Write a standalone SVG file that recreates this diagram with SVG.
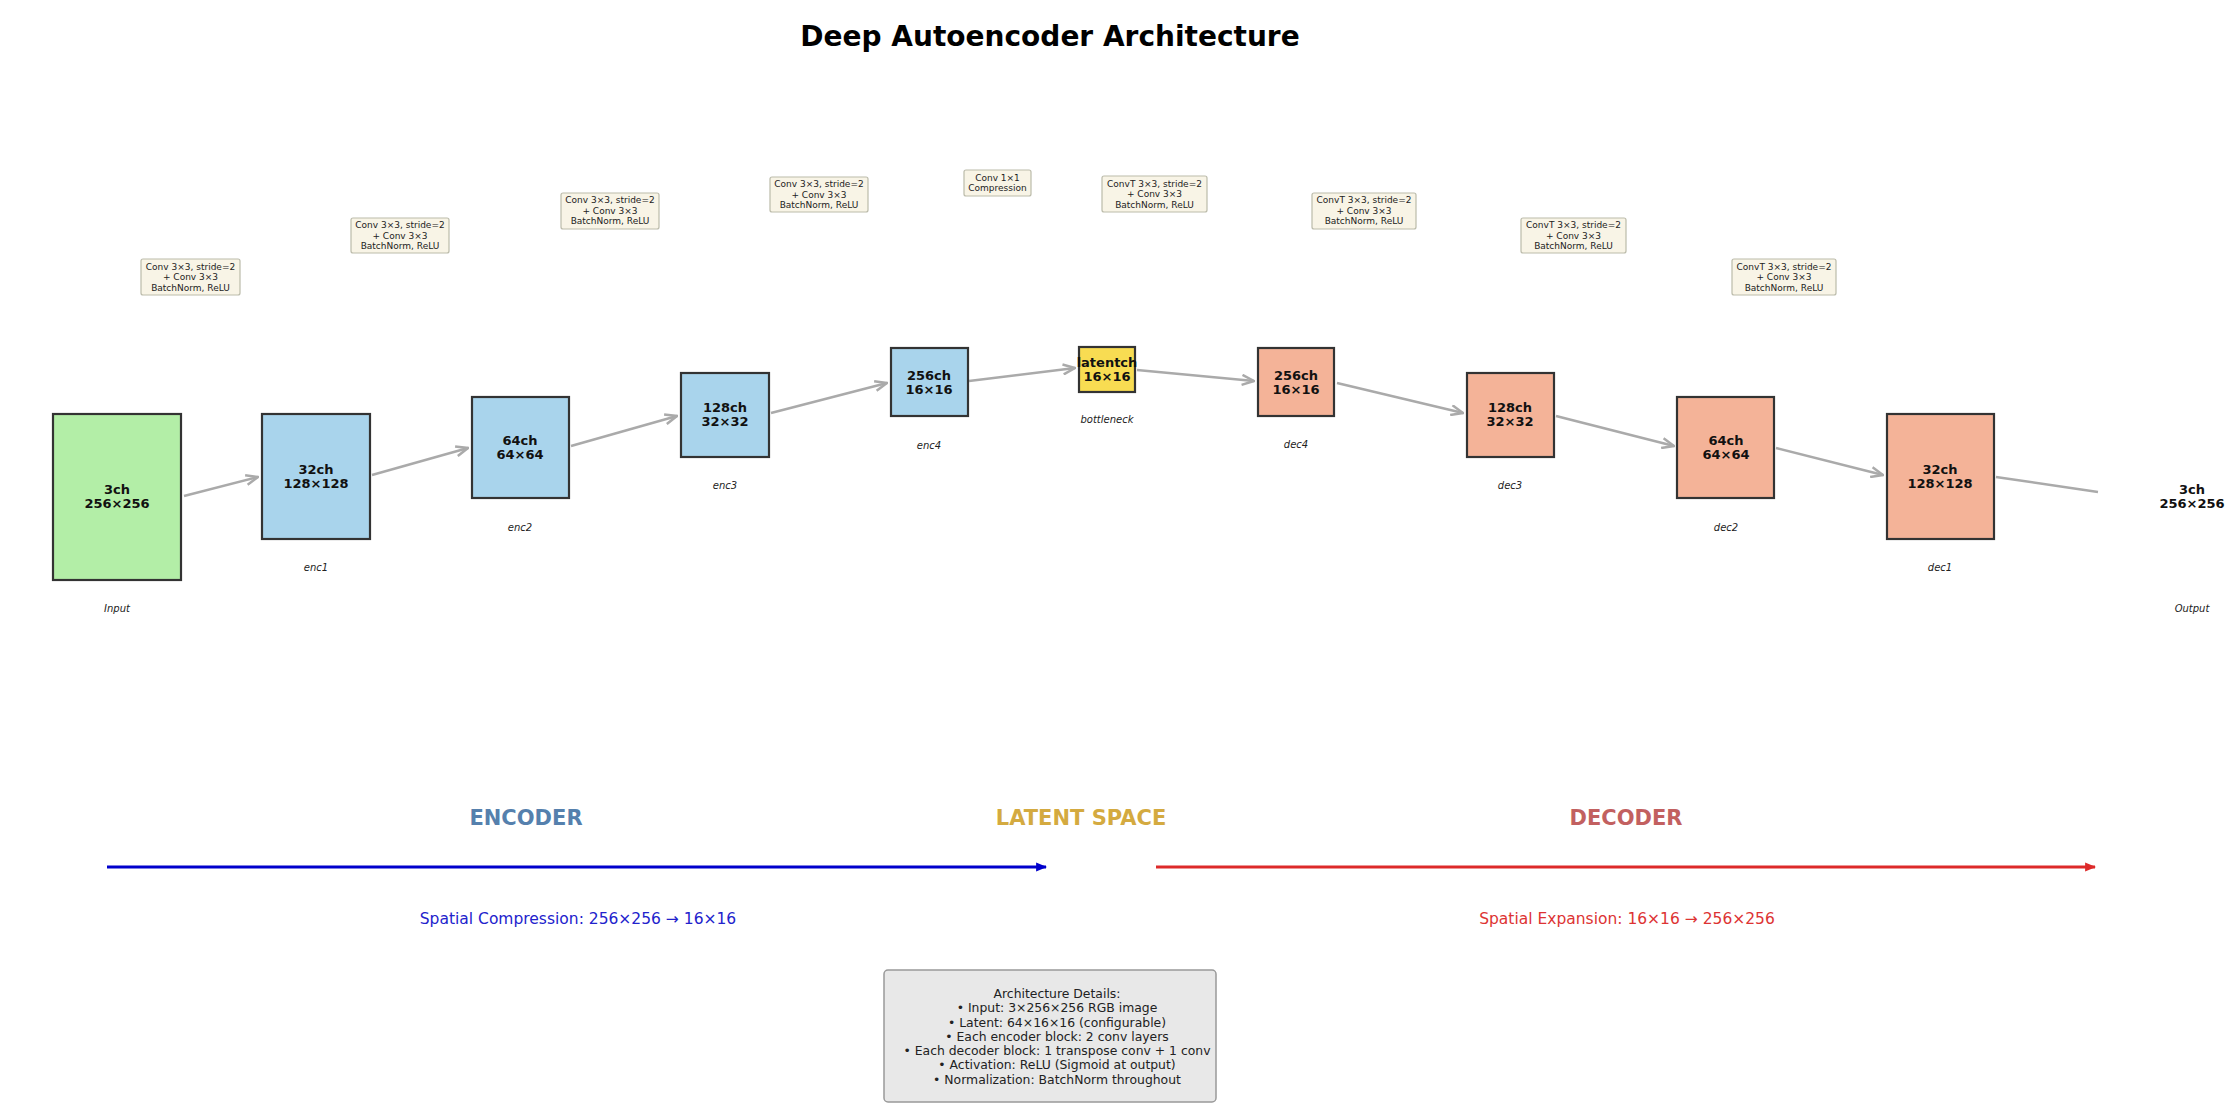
<svg xmlns="http://www.w3.org/2000/svg" width="2232" height="1108" viewBox="0 0 2232 1108">
<defs>
<marker id="open" viewBox="0 0 14 12" refX="13" refY="6" markerWidth="14" markerHeight="12" markerUnits="userSpaceOnUse" orient="auto">
<path d="M1,1 L13,6 L1,11" fill="none" stroke="#aaaaaa" stroke-width="2.5"/>
</marker>
<marker id="blueHead" viewBox="0 0 10 10" refX="9" refY="5" markerWidth="11" markerHeight="11" markerUnits="userSpaceOnUse" orient="auto">
<path d="M0,1 L10,5 L0,9 Z" fill="#0000cc"/>
</marker>
<marker id="redHead" viewBox="0 0 10 10" refX="9" refY="5" markerWidth="11" markerHeight="11" markerUnits="userSpaceOnUse" orient="auto">
<path d="M0,1 L10,5 L0,9 Z" fill="#dd2a2a"/>
</marker>
</defs>
<style>
text { font-family: "DejaVu Sans", "Liberation Sans", sans-serif; }
.title { font-size: 28px; font-weight: bold; fill: #000; }
.nt { font-size: 13px; font-weight: bold; fill: #111; }
.nl { font-size: 10px; font-style: italic; fill: #222; }
.lb { fill: #f8f4e6; stroke: #bbbbaa; stroke-width: 1.2; }
.lt { font-size: 9px; fill: #222; }
.box { stroke: #333; stroke-width: 2.2; }
.enc { fill: #a9d4ec; }
.dec { fill: #f4b398; }
.conn { stroke: #aaaaaa; stroke-width: 2.5; fill: none; }
.sec { font-size: 21px; font-weight: bold; }
.sub { font-size: 15.5px; }
.det { font-size: 12.4px; fill: #222; }
</style>
<rect width="2232" height="1108" fill="#ffffff"/>
<text class="title" x="1050" y="36" text-anchor="middle" dominant-baseline="central">Deep Autoencoder Architecture</text>

<g id="connectors">
<line class="conn" x1="184" y1="496" x2="258" y2="477" marker-end="url(#open)"/>
<line class="conn" x1="372" y1="475" x2="468" y2="448" marker-end="url(#open)"/>
<line class="conn" x1="571" y1="446" x2="677" y2="416" marker-end="url(#open)"/>
<line class="conn" x1="771" y1="413" x2="887" y2="383" marker-end="url(#open)"/>
<line class="conn" x1="969" y1="381" x2="1075" y2="368" marker-end="url(#open)"/>
<line class="conn" x1="1137" y1="370" x2="1254" y2="381" marker-end="url(#open)"/>
<line class="conn" x1="1337" y1="383" x2="1463" y2="413" marker-end="url(#open)"/>
<line class="conn" x1="1556" y1="416" x2="1674" y2="446" marker-end="url(#open)"/>
<line class="conn" x1="1776" y1="448" x2="1883" y2="475" marker-end="url(#open)"/>
<line class="conn" x1="1996" y1="477" x2="2098" y2="492"/>
</g>

<g id="input">
<rect class="box" x="53" y="414" width="128" height="166" fill="#b3eea7"/>
<text class="nt" x="117" y="489" text-anchor="middle" dominant-baseline="central">3ch</text>
<text class="nt" x="117" y="503" text-anchor="middle" dominant-baseline="central">256×256</text>
<text class="nl" x="117" y="608" text-anchor="middle" dominant-baseline="central">Input</text>
</g>
<g id="enc1">
<rect class="box enc" x="262" y="414" width="108" height="125"/>
<text class="nt" x="316" y="469" text-anchor="middle" dominant-baseline="central">32ch</text>
<text class="nt" x="316" y="483" text-anchor="middle" dominant-baseline="central">128×128</text>
<text class="nl" x="316" y="567" text-anchor="middle" dominant-baseline="central">enc1</text>
</g>
<g id="enc2">
<rect class="box enc" x="472" y="397" width="97" height="101"/>
<text class="nt" x="520" y="440" text-anchor="middle" dominant-baseline="central">64ch</text>
<text class="nt" x="520" y="454" text-anchor="middle" dominant-baseline="central">64×64</text>
<text class="nl" x="520" y="527" text-anchor="middle" dominant-baseline="central">enc2</text>
</g>
<g id="enc3">
<rect class="box enc" x="681" y="373" width="88" height="84"/>
<text class="nt" x="725" y="407" text-anchor="middle" dominant-baseline="central">128ch</text>
<text class="nt" x="725" y="421" text-anchor="middle" dominant-baseline="central">32×32</text>
<text class="nl" x="725" y="485" text-anchor="middle" dominant-baseline="central">enc3</text>
</g>
<g id="enc4">
<rect class="box enc" x="891" y="348" width="77" height="68"/>
<text class="nt" x="929" y="375" text-anchor="middle" dominant-baseline="central">256ch</text>
<text class="nt" x="929" y="389" text-anchor="middle" dominant-baseline="central">16×16</text>
<text class="nl" x="929" y="445" text-anchor="middle" dominant-baseline="central">enc4</text>
</g>
<g id="bottleneck">
<rect class="box" x="1079" y="347" width="56" height="45" fill="#f8dc52"/>
<text class="nt" x="1107" y="362" text-anchor="middle" dominant-baseline="central">latentch</text>
<text class="nt" x="1107" y="376" text-anchor="middle" dominant-baseline="central">16×16</text>
<text class="nl" x="1107" y="419" text-anchor="middle" dominant-baseline="central">bottleneck</text>
</g>
<g id="dec4">
<rect class="box dec" x="1258" y="348" width="76" height="68"/>
<text class="nt" x="1296" y="375" text-anchor="middle" dominant-baseline="central">256ch</text>
<text class="nt" x="1296" y="389" text-anchor="middle" dominant-baseline="central">16×16</text>
<text class="nl" x="1296" y="444" text-anchor="middle" dominant-baseline="central">dec4</text>
</g>
<g id="dec3">
<rect class="box dec" x="1467" y="373" width="87" height="84"/>
<text class="nt" x="1510" y="407" text-anchor="middle" dominant-baseline="central">128ch</text>
<text class="nt" x="1510" y="421" text-anchor="middle" dominant-baseline="central">32×32</text>
<text class="nl" x="1510" y="485" text-anchor="middle" dominant-baseline="central">dec3</text>
</g>
<g id="dec2">
<rect class="box dec" x="1677" y="397" width="97" height="101"/>
<text class="nt" x="1726" y="440" text-anchor="middle" dominant-baseline="central">64ch</text>
<text class="nt" x="1726" y="454" text-anchor="middle" dominant-baseline="central">64×64</text>
<text class="nl" x="1726" y="527" text-anchor="middle" dominant-baseline="central">dec2</text>
</g>
<g id="dec1">
<rect class="box dec" x="1887" y="414" width="107" height="125"/>
<text class="nt" x="1940" y="469" text-anchor="middle" dominant-baseline="central">32ch</text>
<text class="nt" x="1940" y="483" text-anchor="middle" dominant-baseline="central">128×128</text>
<text class="nl" x="1940" y="567" text-anchor="middle" dominant-baseline="central">dec1</text>
</g>
<g id="output">
<text class="nt" x="2192" y="489" text-anchor="middle" dominant-baseline="central">3ch</text>
<text class="nt" x="2192" y="503" text-anchor="middle" dominant-baseline="central">256×256</text>
<text class="nl" x="2192" y="608" text-anchor="middle" dominant-baseline="central">Output</text>
</g>

<g id="op-labels">
<g id="op-enc1">
<rect class="lb" x="141" y="259" width="99" height="36" rx="2"/>
<text class="lt" x="190.5" y="266.5" text-anchor="middle" dominant-baseline="central">Conv 3×3, stride=2</text>
<text class="lt" x="190.5" y="277" text-anchor="middle" dominant-baseline="central">+ Conv 3×3</text>
<text class="lt" x="190.5" y="287.5" text-anchor="middle" dominant-baseline="central">BatchNorm, ReLU</text>
</g>
<g id="op-enc2">
<rect class="lb" x="351" y="218" width="98" height="35" rx="2"/>
<text class="lt" x="400" y="225" text-anchor="middle" dominant-baseline="central">Conv 3×3, stride=2</text>
<text class="lt" x="400" y="235.5" text-anchor="middle" dominant-baseline="central">+ Conv 3×3</text>
<text class="lt" x="400" y="246" text-anchor="middle" dominant-baseline="central">BatchNorm, ReLU</text>
</g>
<g id="op-enc3">
<rect class="lb" x="561" y="193" width="98" height="36" rx="2"/>
<text class="lt" x="610" y="200" text-anchor="middle" dominant-baseline="central">Conv 3×3, stride=2</text>
<text class="lt" x="610" y="210.5" text-anchor="middle" dominant-baseline="central">+ Conv 3×3</text>
<text class="lt" x="610" y="221" text-anchor="middle" dominant-baseline="central">BatchNorm, ReLU</text>
</g>
<g id="op-enc4">
<rect class="lb" x="770" y="177" width="98" height="35" rx="2"/>
<text class="lt" x="819" y="184" text-anchor="middle" dominant-baseline="central">Conv 3×3, stride=2</text>
<text class="lt" x="819" y="194.5" text-anchor="middle" dominant-baseline="central">+ Conv 3×3</text>
<text class="lt" x="819" y="205" text-anchor="middle" dominant-baseline="central">BatchNorm, ReLU</text>
</g>
<g id="op-bottleneck">
<rect class="lb" x="964" y="170" width="67" height="26" rx="2"/>
<text class="lt" x="997.5" y="177.5" text-anchor="middle" dominant-baseline="central">Conv 1×1</text>
<text class="lt" x="997.5" y="188" text-anchor="middle" dominant-baseline="central">Compression</text>
</g>
<g id="op-dec4">
<rect class="lb" x="1102" y="176" width="105" height="36" rx="2"/>
<text class="lt" x="1154.5" y="183.5" text-anchor="middle" dominant-baseline="central">ConvT 3×3, stride=2</text>
<text class="lt" x="1154.5" y="194" text-anchor="middle" dominant-baseline="central">+ Conv 3×3</text>
<text class="lt" x="1154.5" y="204.5" text-anchor="middle" dominant-baseline="central">BatchNorm, ReLU</text>
</g>
<g id="op-dec3">
<rect class="lb" x="1312" y="193" width="104" height="36" rx="2"/>
<text class="lt" x="1364" y="200" text-anchor="middle" dominant-baseline="central">ConvT 3×3, stride=2</text>
<text class="lt" x="1364" y="210.5" text-anchor="middle" dominant-baseline="central">+ Conv 3×3</text>
<text class="lt" x="1364" y="221" text-anchor="middle" dominant-baseline="central">BatchNorm, ReLU</text>
</g>
<g id="op-dec2">
<rect class="lb" x="1521" y="218" width="105" height="35" rx="2"/>
<text class="lt" x="1573.5" y="225" text-anchor="middle" dominant-baseline="central">ConvT 3×3, stride=2</text>
<text class="lt" x="1573.5" y="235.5" text-anchor="middle" dominant-baseline="central">+ Conv 3×3</text>
<text class="lt" x="1573.5" y="246" text-anchor="middle" dominant-baseline="central">BatchNorm, ReLU</text>
</g>
<g id="op-dec1">
<rect class="lb" x="1732" y="259" width="104" height="36" rx="2"/>
<text class="lt" x="1784" y="266.5" text-anchor="middle" dominant-baseline="central">ConvT 3×3, stride=2</text>
<text class="lt" x="1784" y="277" text-anchor="middle" dominant-baseline="central">+ Conv 3×3</text>
<text class="lt" x="1784" y="287.5" text-anchor="middle" dominant-baseline="central">BatchNorm, ReLU</text>
</g>
</g>

<g id="sections">
<text class="sec" x="526" y="818" text-anchor="middle" dominant-baseline="central" fill="#5580ad">ENCODER</text>
<text class="sec" x="1081" y="818" text-anchor="middle" dominant-baseline="central" fill="#d4aa40">LATENT SPACE</text>
<text class="sec" x="1626" y="818" text-anchor="middle" dominant-baseline="central" fill="#c26060">DECODER</text>
<line x1="107" y1="867" x2="1046" y2="867" stroke="#0000cc" stroke-width="3" marker-end="url(#blueHead)"/>
<line x1="1156" y1="867" x2="2095" y2="867" stroke="#dd2a2a" stroke-width="3" marker-end="url(#redHead)"/>
<text class="sub" x="578" y="919" text-anchor="middle" dominant-baseline="central" fill="#2222cc">Spatial Compression: 256×256 → 16×16</text>
<text class="sub" x="1627" y="919" text-anchor="middle" dominant-baseline="central" fill="#dd3333">Spatial Expansion: 16×16 → 256×256</text>
</g>

<g id="details">
<rect x="884" y="970" width="332" height="132" rx="4" fill="#e8e8e8" stroke="#999999" stroke-width="1.5"/>
<text class="det" x="1057" y="993" text-anchor="middle" dominant-baseline="central">Architecture Details:</text>
<text class="det" x="1057" y="1007.5" text-anchor="middle" dominant-baseline="central">• Input: 3×256×256 RGB image</text>
<text class="det" x="1057" y="1022" text-anchor="middle" dominant-baseline="central">• Latent: 64×16×16 (configurable)</text>
<text class="det" x="1057" y="1036" text-anchor="middle" dominant-baseline="central">• Each encoder block: 2 conv layers</text>
<text class="det" x="1057" y="1050" text-anchor="middle" dominant-baseline="central">• Each decoder block: 1 transpose conv + 1 conv</text>
<text class="det" x="1057" y="1064.5" text-anchor="middle" dominant-baseline="central">• Activation: ReLU (Sigmoid at output)</text>
<text class="det" x="1057" y="1079" text-anchor="middle" dominant-baseline="central">• Normalization: BatchNorm throughout</text>
</g>
</svg>
